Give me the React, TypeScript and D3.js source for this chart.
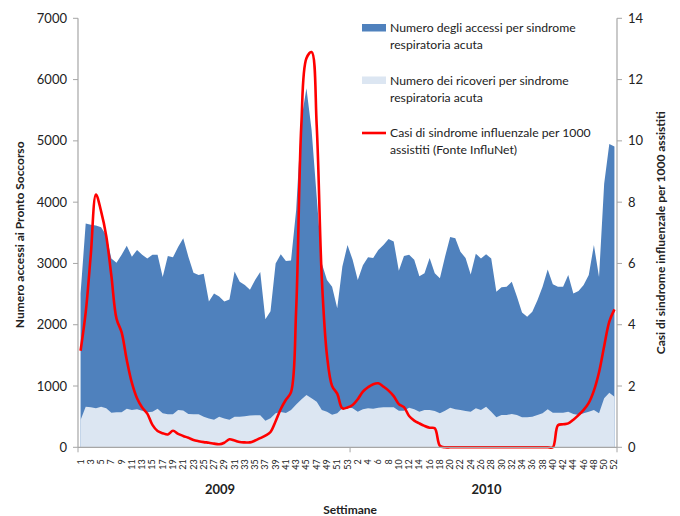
import React from 'react';
import * as d3 from 'd3';

// settimane: 2009 (1-53) e 2010 (1-52)
const weeks2009 = d3.range(1, 54);
const weeks2010 = d3.range(1, 53);
const categories = [
  ...weeks2009.map(w => ({ year: '2009', week: w })),
  ...weeks2010.map(w => ({ year: '2010', week: w })),
];

// Numero degli accessi per sindrome respiratoria acuta
const accessi = [
  2510, 3650, 3630, 3620, 3590, 3460, 3080, 3010, 3140, 3290,
  3110, 3220, 3140, 3080, 3140, 3140, 2780, 3120, 3100, 3270,
  3410, 3110, 2850, 2810, 2830, 2380, 2510, 2460, 2380, 2410,
  2870, 2700, 2650, 2570, 2730, 2860, 2090, 2220, 3000, 3150,
  3040, 3050, 3870, 5340, 5860, 5180, 4090, 3000, 2730, 2620,
  2270, 2950, 3300, 3060, 2730, 2970, 3100, 3090, 3220, 3300,
  3400, 3360, 2880, 3120, 3140, 3060, 2790, 2840, 3090, 2840,
  2760, 3110, 3430, 3410, 3190, 3090, 2820, 3160, 3080, 3150,
  3080, 2540, 2610, 2620, 2700, 2460, 2200, 2130, 2210, 2400,
  2620, 2900, 2660, 2620, 2620, 2810, 2510, 2550, 2650, 2810,
  3300, 2780, 4300, 4950, 4910,
];

// Numero dei ricoveri per sindrome respiratoria acuta
const ricoveri = [
  445, 663, 652, 636, 663, 636, 565, 570, 570, 630,
  609, 620, 598, 570, 580, 630, 555, 538, 538, 609,
  600, 543, 540, 540, 500, 470, 450, 500, 470, 450,
  500, 500, 505, 520, 525, 525, 435, 475, 555, 575,
  560, 610, 700, 780, 855, 800, 745, 610, 580, 530,
  555, 636, 652, 636, 581, 620, 636, 630, 647, 652,
  652, 652, 598, 598, 647, 620, 581, 609, 609, 592,
  554, 598, 647, 620, 609, 592, 581, 636, 609, 663,
  581, 489, 527, 527, 543, 527, 489, 489, 500, 527,
  554, 620, 565, 565, 565, 581, 543, 527, 554, 581,
  609, 554, 799, 891, 826,
];

// Casi di sindrome influenzale per 1000 assistiti (InfluNet)
const ili = [
  3.15, 4.4, 6.3, 8.25, 7.7, 6.9, 5.6, 4.2, 3.75, 2.85,
  2.1, 1.6, 1.3, 1.1, 0.73, 0.53, 0.46, 0.42, 0.54, 0.44,
  0.37, 0.31, 0.24, 0.2, 0.17, 0.15, 0.12, 0.1, 0.15, 0.26,
  0.22, 0.17, 0.16, 0.16, 0.22, 0.3, 0.38, 0.5, 0.85, 1.25,
  1.55, 1.8, 4.5, 10.5, 12.7, 12.9, 10.5, 5.5, 3.0, 2.0,
  1.75, 1.27, 1.3, 1.38, 1.57, 1.82, 1.96, 2.06, 2.09, 1.98,
  1.85, 1.67, 1.41, 1.31, 1.02, 0.87, 0.78, 0.7, 0.64, 0.62,
  0.05, 0, 0, 0, 0, 0, 0, 0, 0, 0,
  0, 0, 0, 0, 0, 0, 0, 0, 0, 0,
  0, 0, 0, 0.72, 0.75, 0.78, 0.9, 1.05, 1.22, 1.45,
  1.85, 2.45, 3.3, 4.1, 4.5,
];

const leftTicks = d3.range(0, 7001, 1000);
const rightTicks = d3.range(0, 15, 2);

const legendItems = [
  { kind: 'area', color: '#4F81BD', lines: ['Numero degli accessi per sindrome', 'respiratoria acuta'] },
  { kind: 'area', color: '#DCE6F2', lines: ['Numero dei ricoveri per sindrome', 'respiratoria acuta'] },
  { kind: 'line', color: '#FF0000', lines: ['Casi di sindrome influenzale per 1000', 'assistiti (Fonte InfluNet)'] },
];

const width = 680;
const height = 516;
const margin = { top: 18.3, right: 63, bottom: 68.7, left: 78 };
const font = 'Lato, "Open Sans", sans-serif';
const axisColor = '#A6A6A6';
const textColor = '#222';

export default function App() {
  const x0 = margin.left;
  const x1 = width - margin.right;
  const y0 = height - margin.bottom;
  const y1 = margin.top;

  const x = d3.scalePoint<number>()
    .domain(d3.range(categories.length))
    .range([x0, x1])
    .padding(0.5);
  const yLeft = d3.scaleLinear().domain([0, 7000]).range([y0, y1]);
  const yRight = d3.scaleLinear().domain([0, 14]).range([y0, y1]);

  const areaAccessi = d3.area<number>()
    .x((d, i) => x(i)!)
    .y0(y0)
    .y1(d => yLeft(d));
  const lineIli = d3.line<number>()
    .x((d, i) => x(i)!)
    .y(d => yRight(d))
    .curve(d3.curveCatmullRom.alpha(0.5));

  const step = x.step();
  const split = x(weeks2009.length - 1)! + step / 2;
  const mid2009 = (x0 + split) / 2 + 6;
  const mid2010 = (split + x1) / 2 + 3;

  return (
    <svg width={width} height={height} style={{ position: 'absolute', left: 0, top: 0, background: '#fff' }}>
      <path d={areaAccessi(accessi)!} fill="#4F81BD" />
      <path d={areaAccessi(ricoveri)!} fill="#DCE6F2" />
      <path d={lineIli(ili)!} fill="none" stroke="#FF0000" strokeWidth={2.6} strokeLinejoin="round" />

      {/* asse sinistro */}
      <line x1={x0} x2={x0} y1={y1} y2={y0} stroke={axisColor} strokeWidth={1.2} />
      {leftTicks.map(t => (
        <g key={'l' + t}>
          <line x1={x0 - 5} x2={x0} y1={yLeft(t)} y2={yLeft(t)} stroke={axisColor} />
          <text x={67} y={yLeft(t)} dy="0.35em" textAnchor="end" fontFamily={font} fontSize={13} fill={textColor}>{t}</text>
        </g>
      ))}
      <text transform={`translate(24,${(y0 + y1) / 2 + 2}) rotate(-90)`} textAnchor="middle"
        fontFamily={font} fontSize={12} fontWeight="bold" fill={textColor}>Numero accessi ai Pronto Soccorso</text>

      {/* asse destro */}
      <line x1={x1} x2={x1} y1={y1} y2={y0} stroke={axisColor} strokeWidth={1.2} />
      {rightTicks.map(t => (
        <g key={'r' + t}>
          <line x1={x1} x2={x1 + 5} y1={yRight(t)} y2={yRight(t)} stroke={axisColor} />
          <text x={628} y={yRight(t)} dy="0.35em" textAnchor="start" fontFamily={font} fontSize={13} fill={textColor}>{t}</text>
        </g>
      ))}
      <text transform={`translate(665,${(y0 + y1) / 2}) rotate(-90)`} textAnchor="middle"
        fontFamily={font} fontSize={12} fontWeight="bold" fill={textColor}>Casi di sindrome influenzale per 1000 assistiti</text>

      {/* asse x */}
      <line x1={x0} x2={x1} y1={y0} y2={y0} stroke={axisColor} strokeWidth={1.2} />
      {[x0, split, x1].map((p, i) => (
        <line key={'s' + i} x1={p} x2={p} y1={y0} y2={y0 + 5} stroke={axisColor} />
      ))}
      {categories.map((c, i) => i % 2 === 0 ? (
        <text key={'w' + i} transform={`translate(${x(i)! + 3},${y0 + 12}) rotate(-90)`} textAnchor="end"
          fontFamily={font} fontSize={9} fill={textColor}>{c.week}</text>
      ) : null)}
      <text x={mid2009} y={494} textAnchor="middle" fontFamily={font} fontSize={13} fontWeight="bold" fill={textColor}>2009</text>
      <text x={mid2010} y={494} textAnchor="middle" fontFamily={font} fontSize={13} fontWeight="bold" fill={textColor}>2010</text>
      <text x={split} y={514} textAnchor="middle" fontFamily={font} fontSize={12} fontWeight="bold" fill={textColor}>Settimane</text>

      {/* legenda */}
      {legendItems.map((item, k) => {
        const top = 24 + k * 52.5;
        return (
          <g key={'lg' + k}>
            {item.kind === 'area'
              ? <rect x={362} y={top} width={24} height={7.5} fill={item.color} />
              : <line x1={362} x2={386} y1={top + 4} y2={top + 4} stroke={item.color} strokeWidth={2.6} />}
            {item.lines.map((ln, j) => (
              <text key={j} x={390} y={top + 8 + j * 17.3} fontFamily={font} fontSize={12.2} fill={textColor}>{ln}</text>
            ))}
          </g>
        );
      })}
    </svg>
  );
}
